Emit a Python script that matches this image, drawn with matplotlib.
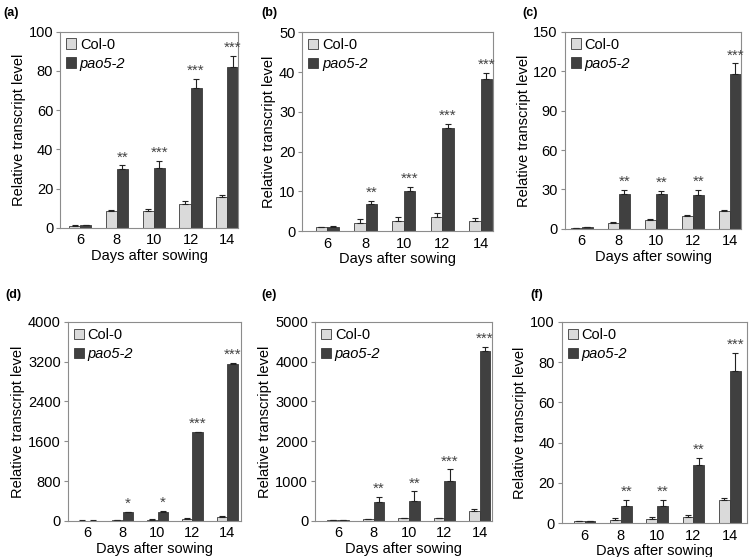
import numpy as np
import matplotlib
matplotlib.use("Agg")
import matplotlib.pyplot as plt

plt.rcParams['font.family'] = ['Liberation Sans', 'DejaVu Sans']

days = ['6', '8', '10', '12', '14']
panel_labels = ['(a)', '(b)', '(c)', '(d)', '(e)', '(f)']

# Col-0 means / errors per panel
col0_vals = [
    [1, 8.5, 8.5, 12, 15.5],
    [1, 2, 2.5, 3.5, 2.5],
    [0.8, 4.5, 7, 9.5, 13.5],
    [5, 10, 25, 40, 80],
    [10, 40, 60, 60, 240],
    [0.8, 1.5, 2.2, 3, 11.5],
]
col0_err = [
    [0.2, 0.5, 1.0, 1.5, 1.2],
    [0.1, 1.0, 1.0, 1.0, 0.8],
    [0.2, 0.8, 0.8, 0.8, 0.8],
    [2, 3, 5, 8, 10],
    [5, 10, 20, 20, 60],
    [0.2, 0.8, 1.0, 1.2, 1.0],
]
# pao5-2 means / errors per panel
pao_vals = [
    [1.3, 30, 30.5, 71.5, 82],
    [1.1, 6.8, 10.2, 26, 38.3],
    [1.2, 26.5, 26.5, 26, 117.5],
    [5, 175, 185, 1780, 3160],
    [10, 470, 510, 990, 4270],
    [0.8, 8.5, 8.5, 29, 75.5],
]
pao_err = [
    [0.3, 1.8, 3.5, 4.5, 5.5],
    [0.2, 0.9, 1.0, 1.0, 1.5],
    [0.3, 3.0, 2.5, 3.5, 8.5],
    [2, 8, 10, 12, 20],
    [5, 140, 230, 300, 100],
    [0.3, 3.0, 3.0, 3.5, 9.0],
]
stars = [
    ['', '**', '***', '***', '***'],
    ['', '**', '***', '***', '***'],
    ['', '**', '**', '**', '***'],
    ['', '*', '*', '***', '***'],
    ['', '**', '**', '***', '***'],
    ['', '**', '**', '**', '***'],
]
y_max = [100, 50, 150, 4000, 5000, 100]
y_step = [20, 10, 30, 800, 1000, 20]

# layout (figure fractions) and x limits per panel
axes_pos = [
    [0.080, 0.591, 0.237, 0.352],
    [0.402, 0.585, 0.253, 0.357],
    [0.751, 0.589, 0.235, 0.354],
    [0.090, 0.065, 0.231, 0.357],
    [0.419, 0.065, 0.235, 0.357],
    [0.747, 0.061, 0.246, 0.361],
]
xlims = [(-0.54, 4.3), (-0.65, 4.31), (-0.46, 4.32),
         (-0.57, 4.4), (-0.65, 4.34), (-0.63, 4.47)]
label_xy = [(0.004, 0.977), (0.348, 0.977), (0.694, 0.977),
            (0.007, 0.47), (0.348, 0.47), (0.705, 0.47)]

light = '#dadada'
dark = '#404040'
edge = '#3a3a3a'
frame = '#8c8c8c'
fs = 10.5

fig = plt.figure(figsize=(7.52, 5.57), dpi=100)

for i in range(6):
    ax = fig.add_axes(axes_pos[i])
    x = np.arange(len(days))
    w = 0.3
    ax.bar(x - w / 2, col0_vals[i], w, color=light, edgecolor=edge, linewidth=0.6,
           yerr=[np.zeros(5), col0_err[i]], capsize=2.5,
           error_kw=dict(elinewidth=0.8, capthick=0.8, ecolor='#222222'),
           label='Col-0', zorder=2)
    ax.bar(x + w / 2, pao_vals[i], w, color=dark, edgecolor=edge, linewidth=0.6,
           yerr=[np.zeros(5), pao_err[i]], capsize=2.5,
           error_kw=dict(elinewidth=0.8, capthick=0.8, ecolor='#222222'),
           label='pao5-2', zorder=2)

    # significance stars above pao5-2 bars
    for j in range(5):
        if stars[i][j]:
            top = pao_vals[i][j] + pao_err[i][j]
            ax.text(x[j] + w / 2, top + y_max[i] * 0.005, stars[i][j],
                    ha='center', va='bottom', fontsize=11, color='#444444')

    ax.set_xlim(*xlims[i])
    ax.set_ylim(0, y_max[i])
    ax.set_yticks(np.arange(0, y_max[i] + 1, y_step[i]))
    ax.set_xticks(x)
    ax.set_xticklabels(days)
    ax.tick_params(axis='x', length=0, labelsize=fs, pad=4)
    ax.tick_params(axis='y', length=3, width=0.8, color=frame, labelsize=fs, pad=2)
    for s in ax.spines.values():
        s.set_color(frame)
        s.set_linewidth(0.8)
    ax.set_xlabel('Days after sowing', fontsize=fs, labelpad=1)
    ax.set_ylabel('Relative transcript level', fontsize=fs, labelpad=2)

    leg = ax.legend(loc='upper left', frameon=False, fontsize=fs,
                    handlelength=0.7, handleheight=0.7, handletextpad=0.25,
                    labelspacing=0.35, borderaxespad=0.2, borderpad=0.2)
    leg.get_texts()[1].set_style('italic')

    fig.text(label_xy[i][0], label_xy[i][1], panel_labels[i], fontsize=9,
             fontweight='bold', va='center', ha='left')

fig.savefig('out.png', dpi=100)
